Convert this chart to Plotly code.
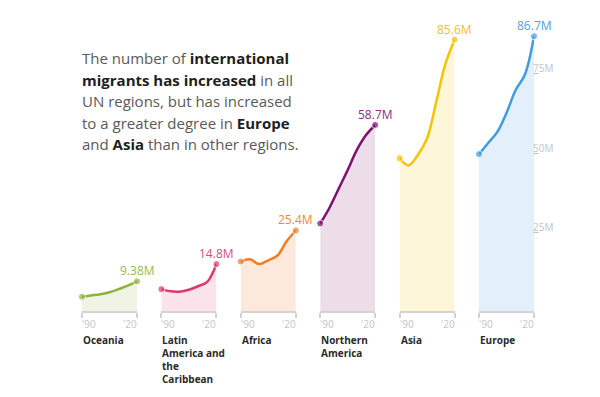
import plotly.graph_objects as go

years = [1990, 1995, 2000, 2005, 2010, 2015, 2020]
region_names = ["Oceania", "Latin<br>America and<br>the<br>Caribbean", "Africa",
                "Northern<br>America", "Asia", "Europe"]
oceania = [4.5, 4.9, 5.3, 5.9, 6.9, 8.0, 9.38]
latin_america = [6.9, 6.2, 6.1, 6.7, 7.8, 9.2, 14.8]
africa = [15.6, 16.3, 14.8, 16.0, 17.5, 22.0, 25.4]
northern_america = [27.6, 32.5, 38.5, 44.5, 50.8, 55.5, 58.7]
asia = [48.2, 46.0, 49.3, 54.5, 66.0, 78.0, 85.6]
europe = [49.5, 53.0, 56.5, 62.5, 69.7, 74.5, 86.7]
end_labels = ["9.38M", "14.8M", "25.4M", "58.7M", "85.6M", "86.7M"]
year_ticks = [1990, 2020]
year_tick_text = ["'90", "'20"]
value_ticks = [25, 50, 75]
value_tick_text = ["<u>2</u>5M", "<u>5</u>0M", "<u>7</u>5M"]

series = [oceania, latin_america, africa, northern_america, asia, europe]
line_colors = ["#8db33f", "#d93a73", "#f47c20", "#7d1170", "#f6c300", "#3f9be2"]
fill_colors = ["#eff4e4", "#fbe3ec", "#fde9dc", "#ecdde9", "#fef6d9", "#e3effb"]
label_colors = ["#97b84f", "#d24f7e", "#f2853a", "#8a3080", "#f2c21c", "#4ba2e4"]

B = "<span style='color:#1e1e1e'><b>{}</b></span>"
title_lines = [
    "The number of " + B.format("international"),
    B.format("migrants has increased") + " in all",
    "UN regions, but has increased",
    "to a greater degree in " + B.format("Europe"),
    "and " + B.format("Asia") + " than in other regions.",
]

W, H = 600, 397
FONT = "Open Sans"
base_px = 311
top_px = 11
px_per_m = 3.17
y_top = (base_px - top_px) / px_per_m
ydom = [(H - base_px) / H, (H - top_px) / H]

fig = go.Figure()
layout = dict(
    width=W, height=H, margin=dict(l=0, r=0, t=0, b=0),
    paper_bgcolor="white", plot_bgcolor="white", showlegend=False,
    font=dict(family=FONT),
)
annotations = []

for i, vals in enumerate(series):
    n = "" if i == 0 else str(i + 1)
    left = 82 + 79.4 * i
    right = left + 55
    layout["xaxis" + n] = dict(
        domain=[left / W, right / W], range=[years[0], years[-1]],
        anchor="y" + n, showline=True, linecolor="#d3d3d3", linewidth=1.5,
        ticks="outside", tickvals=year_ticks, ticklen=5, tickwidth=1.5,
        tickcolor="#d3d3d3", showticklabels=False, showgrid=False,
        zeroline=False, fixedrange=True,
    )
    layout["yaxis" + n] = dict(
        domain=ydom, range=[0, y_top], anchor="x" + n, visible=False,
        fixedrange=True,
    )
    sizes = [7] + [0] * (len(years) - 2) + [7]
    fig.add_trace(go.Scatter(
        x=years, y=vals, xaxis="x" + n, yaxis="y" + n,
        mode="lines+markers",
        line=dict(color=line_colors[i], width=2.5, shape="spline"),
        fill="tozeroy", fillcolor=fill_colors[i],
        marker=dict(size=sizes, color=line_colors[i]),
        cliponaxis=False, hoverinfo="skip",
    ))
    # end value label
    annotations.append(dict(
        x=years[-1], y=vals[-1], xref="x" + n, yref="y" + n,
        text=end_labels[i], showarrow=False, xanchor="center",
        yanchor="bottom", yshift=0,
        font=dict(size=12, color=label_colors[i], family=FONT),
    ))
    # year tick labels
    for yv, yt, anc, sh in zip(year_ticks, year_tick_text, ["left", "right"], [-2, 2]):
        annotations.append(dict(
            x=yv, y=0, xref="x" + n, yref="y" + n, text=yt, showarrow=False,
            xanchor=anc, yanchor="top", yshift=-4, xshift=sh,
            font=dict(size=10, color="#c4c4c4", family=FONT),
        ))
    # region label
    annotations.append(dict(
        x=years[0], y=(H - 331) / H, xref="x" + n, yref="paper",
        text="<b>" + region_names[i] + "</b>", showarrow=False,
        xanchor="left", yanchor="top", align="left", xshift=-1,
        font=dict(size=10, color="#2a2a2a", family=FONT),
    ))

# value axis labels on the last panel
for v, t in zip(value_ticks, value_tick_text):
    annotations.append(dict(
        x=years[-1], y=v, xref="x6", yref="y6", text=t, showarrow=False,
        xanchor="left", yanchor="bottom", xshift=-3, yshift=-4,
        font=dict(size=10, color="#c4c4c4", family=FONT),
    ))

for k, line in enumerate(title_lines):
    annotations.append(dict(
        x=82 / W, y=(H - 58.5 - 21.4 * k) / H, xref="paper", yref="paper",
        text=line, showarrow=False, xanchor="left", yanchor="middle",
        align="left", xshift=-2,
        font=dict(size=15, color="#5a5a5a", family=FONT),
    ))

layout["annotations"] = annotations
fig.update_layout(**layout)
fig.write_html("out.html", config={"displayModeBar": False},
               post_script="document.body.style.margin='0';")
